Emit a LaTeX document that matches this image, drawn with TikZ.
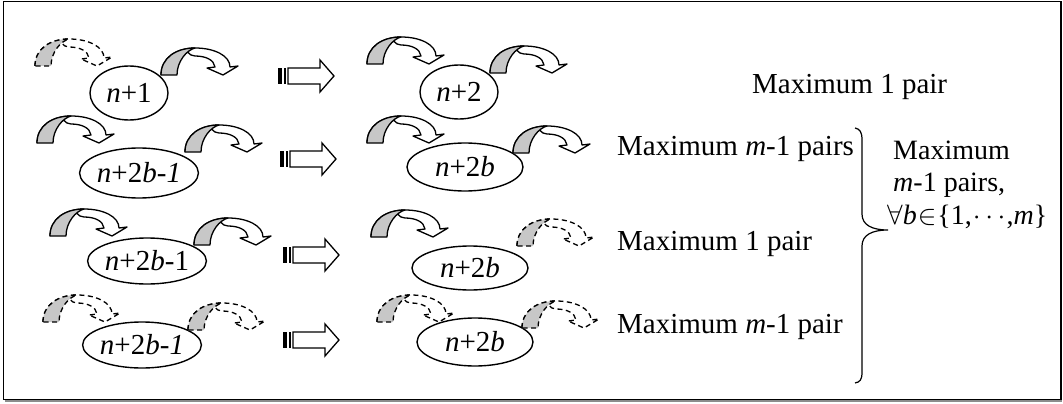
\RequirePackage{fix-cm}
\documentclass[tikz,border=0pt]{standalone}
\usepackage{fontspec}
\setmainfont{Liberation Serif}
\usetikzlibrary{shapes.geometric}

\begin{document}
\begin{tikzpicture}[x=1pt,y=-1pt,
  every node/.style={font=\fontsize{29}{34}\selectfont},
  lbl/.style={anchor=base west, inner sep=0pt},
  stack/.style={lbl, font=\fontsize{28}{32}\selectfont, text height=18pt, text depth=4pt},
  oval/.style={ellipse, draw, line width=1.4pt, inner sep=0pt},
  ribbon/.style={line width=1.3pt, line join=round},
  backside/.style={fill=black!22},
  dashedribbon/.style={dash pattern=on 5pt off 3.5pt},
  % curved ribbon arrow, origin at the outer foot of the left leg
  pics/curvedarrow/.style={code={
    \begin{scope}[yscale=-1]
      % paper under the whole ribbon
      \fill[white]
        (0,0) .. controls (0,17) and (15,27) .. (34,27)
        .. controls (54,27) and (69,19) .. (69,8)
        -- (77,9) -- (62,0) -- (46,7) -- (54,8)
        .. controls (53,15) and (45,19) .. (34,19)
        -- (16,0) -- cycle;
      % front of the ribbon with its head
      \draw[ribbon]
        (0,0) .. controls (0,17) and (15,27) .. (34,27)
        .. controls (54,27) and (69,19) .. (69,8)
        -- (77,9) -- (62,0) -- (46,7) -- (54,8)
        .. controls (53,15) and (45,19) .. (34,19)
        .. controls (31,19) and (28.5,20.5) .. (26.6,22.9);
      % shaded back of the left leg
      \draw[ribbon, backside]
        (0,0) .. controls (0,17) and (15,27) .. (34,27)
        .. controls (26,25) and (16,14) .. (16,0) -- cycle;
    \end{scope}
  }},
  % striped block arrow, origin at the left end of the stripes, on the axis
  pics/stripedarrow/.style={code={
    \fill (0,-8) rectangle (4,8);
    \fill (6,-8) rectangle (8,8);
    \draw[line width=1.3pt, fill=white, line join=miter]
      (10,-8) -- (42,-8) -- (42,-16) -- (56,0) -- (42,16) -- (42,8) -- (10,8) -- cycle;
  }}
]
\useasboundingbox (0,0) rectangle (1063,404);

% frame
\draw[line width=1.2pt, black!45] (4.5,401) -- (1062,401);
\draw[line width=1.6pt] (3.5,1.5) rectangle (1061,399.5);

% row 1
\pic[dashedribbon] at (35,66) {curvedarrow};
\node[oval, minimum width=78pt, minimum height=54pt] (a1) at (129,93) {\textit{n}+1};
\pic at (161,75) {curvedarrow};
\pic at (278,76) {stripedarrow};
\pic at (367,64) {curvedarrow};
\node[oval, minimum width=78pt, minimum height=54pt] (b1) at (459,92) {\textit{n}+2};
\pic at (490,73) {curvedarrow};
\node[lbl] (t1) at (752,93) {Maximum 1 pair};

% row 2
\pic at (37,143) {curvedarrow};
\node[oval, minimum width=118pt, minimum height=50pt] (a2) at (139,173) {\textit{n}+2\textit{b}-\textit{1}};
\pic at (185,152) {curvedarrow};
\pic at (280,159) {stripedarrow};
\pic at (367,143) {curvedarrow};
\node[oval, minimum width=116pt, minimum height=48pt] (b2) at (465,167) {\textit{n}+2\textit{b}};
\pic at (513,153) {curvedarrow};
\node[lbl] (t2) at (617,155) {Maximum \textit{m}-1 pairs};

% row 3
\pic at (50,236) {curvedarrow};
\node[oval, minimum width=114pt, minimum height=46pt] (a3) at (147,261) {\textit{n}+2\textit{b}-1};
\pic at (194,245) {curvedarrow};
\pic at (283,255) {stripedarrow};
\pic at (371,237) {curvedarrow};
\node[oval, minimum width=116pt, minimum height=44pt] (b3) at (470,268) {\textit{n}+2\textit{b}};
\pic[dashedribbon] at (517,246) {curvedarrow};
\node[lbl] (t3) at (617,250) {Maximum 1 pair};

% row 4
\pic[dashedribbon] at (43,322) {curvedarrow};
\node[oval, minimum width=118pt, minimum height=46pt] (a4) at (142,345) {\textit{n}+2\textit{b}-\textit{1}};
\pic[dashedribbon] at (188,330) {curvedarrow};
\pic at (283,340) {stripedarrow};
\pic[dashedribbon] at (377,322) {curvedarrow};
\node[oval, minimum width=116pt, minimum height=48pt] (b4) at (475,342) {\textit{n}+2\textit{b}};
\pic[dashedribbon] at (522,328) {curvedarrow};
\node[lbl] (t4) at (617,333) {Maximum \textit{m}-1 pair};

% brace grouping rows 2 to 4
\draw[line width=1.2pt]
  (855,128) .. controls (860,129) and (862,132) .. (862,140)
  -- (862,214) .. controls (862,225) and (872,230) .. (888,230)
  .. controls (872,230) and (862,235) .. (862,246)
  -- (862,372) .. controls (862,380) and (860,382) .. (855,383);

\node[stack] (s1) at (893,159) {Maximum};
\node[stack] (s2) at (893,191) {\textit{m}-1 pairs,};
\node[stack] (s3) at (887,224) {$\forall$\textit{b}\kern1pt$\in$\kern1pt\{1,\kern1pt$\cdots$\kern1pt,\textit{m}\}};
\end{tikzpicture}
\end{document}
